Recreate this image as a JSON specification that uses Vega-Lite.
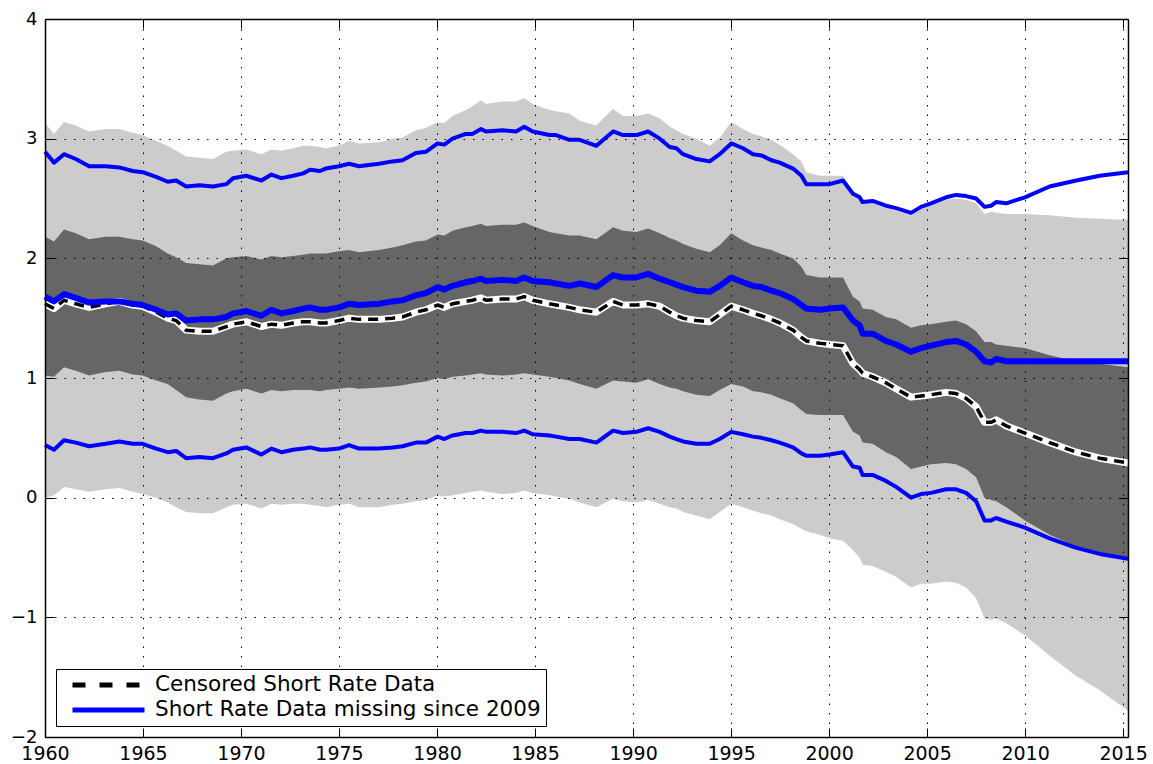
{
  "$schema": "https://vega.github.io/schema/vega-lite/v6.json",
  "width": 1083,
  "height": 718,
  "autosize": {"type": "none"},
  "padding": {"left": 45, "top": 19, "right": 25, "bottom": 27},
  "background": "white",
  "config": {"view": {"stroke": null}},
  "datasets": {
    "d": [
      {"t": 1960.0, "lh": 3.13, "ll": 0.00, "dh": 2.18, "dl": 1.02, "bh": 2.89, "bm": 1.68, "bl": 0.44, "c": 1.62},
      {"t": 1960.46, "lh": 3.04, "ll": 0.02, "dh": 2.14, "dl": 1.01, "bh": 2.80, "bm": 1.64, "bl": 0.40, "c": 1.58},
      {"t": 1960.97, "lh": 3.14, "ll": 0.09, "dh": 2.24, "dl": 1.09, "bh": 2.87, "bm": 1.70, "bl": 0.48, "c": 1.65},
      {"t": 1961.57, "lh": 3.11, "ll": 0.07, "dh": 2.21, "dl": 1.06, "bh": 2.83, "bm": 1.67, "bl": 0.46, "c": 1.62},
      {"t": 1962.25, "lh": 3.06, "ll": 0.05, "dh": 2.16, "dl": 1.02, "bh": 2.77, "bm": 1.63, "bl": 0.43, "c": 1.59},
      {"t": 1963.1, "lh": 3.08, "ll": 0.07, "dh": 2.18, "dl": 1.05, "bh": 2.77, "bm": 1.64, "bl": 0.45, "c": 1.62},
      {"t": 1963.79, "lh": 3.08, "ll": 0.08, "dh": 2.18, "dl": 1.06, "bh": 2.76, "bm": 1.64, "bl": 0.47, "c": 1.64},
      {"t": 1964.47, "lh": 3.05, "ll": 0.05, "dh": 2.16, "dl": 1.03, "bh": 2.73, "bm": 1.62, "bl": 0.45, "c": 1.61},
      {"t": 1964.98, "lh": 3.03, "ll": 0.03, "dh": 2.15, "dl": 1.02, "bh": 2.72, "bm": 1.61, "bl": 0.45, "c": 1.60},
      {"t": 1965.67, "lh": 2.98, "ll": 0.00, "dh": 2.10, "dl": 0.98, "bh": 2.68, "bm": 1.57, "bl": 0.41, "c": 1.55},
      {"t": 1966.26, "lh": 2.94, "ll": -0.04, "dh": 2.04, "dl": 0.95, "bh": 2.64, "bm": 1.53, "bl": 0.38, "c": 1.50},
      {"t": 1966.69, "lh": 2.90, "ll": -0.08, "dh": 2.01, "dl": 0.90, "bh": 2.65, "bm": 1.54, "bl": 0.39, "c": 1.48},
      {"t": 1967.2, "lh": 2.85, "ll": -0.12, "dh": 1.96, "dl": 0.84, "bh": 2.60, "bm": 1.48, "bl": 0.33, "c": 1.40},
      {"t": 1967.88, "lh": 2.84, "ll": -0.13, "dh": 1.95, "dl": 0.82, "bh": 2.61, "bm": 1.49, "bl": 0.34, "c": 1.39},
      {"t": 1968.57, "lh": 2.83, "ll": -0.13, "dh": 1.94, "dl": 0.81, "bh": 2.60, "bm": 1.49, "bl": 0.33, "c": 1.39},
      {"t": 1969.25, "lh": 2.89, "ll": -0.08, "dh": 2.00, "dl": 0.87, "bh": 2.62, "bm": 1.51, "bl": 0.37, "c": 1.43},
      {"t": 1969.59, "lh": 2.90, "ll": -0.06, "dh": 2.01, "dl": 0.89, "bh": 2.67, "bm": 1.54, "bl": 0.40, "c": 1.45},
      {"t": 1970.27, "lh": 2.91, "ll": -0.05, "dh": 2.02, "dl": 0.91, "bh": 2.69, "bm": 1.56, "bl": 0.42, "c": 1.47},
      {"t": 1971.04, "lh": 2.87, "ll": -0.09, "dh": 1.99, "dl": 0.87, "bh": 2.65, "bm": 1.52, "bl": 0.36, "c": 1.43},
      {"t": 1971.55, "lh": 2.91, "ll": -0.05, "dh": 2.02, "dl": 0.90, "bh": 2.70, "bm": 1.57, "bl": 0.41, "c": 1.45},
      {"t": 1972.06, "lh": 2.90, "ll": -0.06, "dh": 2.01, "dl": 0.89, "bh": 2.67, "bm": 1.54, "bl": 0.38, "c": 1.44},
      {"t": 1972.66, "lh": 2.92, "ll": -0.05, "dh": 2.02, "dl": 0.90, "bh": 2.69, "bm": 1.56, "bl": 0.40, "c": 1.46},
      {"t": 1973.17, "lh": 2.94, "ll": -0.05, "dh": 2.03, "dl": 0.90, "bh": 2.71, "bm": 1.58, "bl": 0.41, "c": 1.47},
      {"t": 1973.52, "lh": 2.94, "ll": -0.06, "dh": 2.04, "dl": 0.90, "bh": 2.74, "bm": 1.59, "bl": 0.42, "c": 1.47},
      {"t": 1974.03, "lh": 2.93, "ll": -0.07, "dh": 2.04, "dl": 0.89, "bh": 2.73, "bm": 1.57, "bl": 0.40, "c": 1.46},
      {"t": 1974.32, "lh": 2.92, "ll": -0.08, "dh": 2.04, "dl": 0.90, "bh": 2.75, "bm": 1.57, "bl": 0.40, "c": 1.46},
      {"t": 1975.0, "lh": 2.94, "ll": -0.06, "dh": 2.06, "dl": 0.91, "bh": 2.77, "bm": 1.59, "bl": 0.41, "c": 1.48},
      {"t": 1975.51, "lh": 2.98, "ll": -0.05, "dh": 2.07, "dl": 0.92, "bh": 2.79, "bm": 1.62, "bl": 0.44, "c": 1.50},
      {"t": 1976.02, "lh": 2.96, "ll": -0.08, "dh": 2.05, "dl": 0.91, "bh": 2.77, "bm": 1.61, "bl": 0.41, "c": 1.49},
      {"t": 1977.04, "lh": 2.97, "ll": -0.08, "dh": 2.07, "dl": 0.92, "bh": 2.79, "bm": 1.62, "bl": 0.41, "c": 1.49},
      {"t": 1977.73, "lh": 3.00, "ll": -0.06, "dh": 2.09, "dl": 0.93, "bh": 2.81, "bm": 1.64, "bl": 0.42, "c": 1.50},
      {"t": 1978.24, "lh": 3.01, "ll": -0.05, "dh": 2.11, "dl": 0.94, "bh": 2.82, "bm": 1.65, "bl": 0.43, "c": 1.51},
      {"t": 1978.92, "lh": 3.07, "ll": -0.03, "dh": 2.14, "dl": 0.96, "bh": 2.88, "bm": 1.69, "bl": 0.46, "c": 1.55},
      {"t": 1979.43, "lh": 3.09, "ll": -0.02, "dh": 2.15, "dl": 0.97, "bh": 2.89, "bm": 1.71, "bl": 0.46, "c": 1.57},
      {"t": 1980.03, "lh": 3.14, "ll": 0.02, "dh": 2.20, "dl": 1.00, "bh": 2.96, "bm": 1.76, "bl": 0.51, "c": 1.61},
      {"t": 1980.37, "lh": 3.13, "ll": 0.01, "dh": 2.19, "dl": 0.99, "bh": 2.95, "bm": 1.74, "bl": 0.49, "c": 1.59},
      {"t": 1980.79, "lh": 3.19, "ll": 0.02, "dh": 2.23, "dl": 1.01, "bh": 3.00, "bm": 1.77, "bl": 0.52, "c": 1.62},
      {"t": 1981.47, "lh": 3.24, "ll": 0.04, "dh": 2.26, "dl": 1.02, "bh": 3.04, "bm": 1.80, "bl": 0.54, "c": 1.64},
      {"t": 1981.81, "lh": 3.27, "ll": 0.05, "dh": 2.27, "dl": 1.03, "bh": 3.04, "bm": 1.81, "bl": 0.54, "c": 1.65},
      {"t": 1982.24, "lh": 3.32, "ll": 0.06, "dh": 2.29, "dl": 1.04, "bh": 3.08, "bm": 1.83, "bl": 0.56, "c": 1.67},
      {"t": 1982.5, "lh": 3.29, "ll": 0.05, "dh": 2.27, "dl": 1.03, "bh": 3.06, "bm": 1.81, "bl": 0.55, "c": 1.65},
      {"t": 1983.35, "lh": 3.31, "ll": 0.03, "dh": 2.28, "dl": 1.02, "bh": 3.07, "bm": 1.82, "bl": 0.55, "c": 1.66},
      {"t": 1984.03, "lh": 3.31, "ll": 0.04, "dh": 2.28, "dl": 1.03, "bh": 3.06, "bm": 1.81, "bl": 0.54, "c": 1.66},
      {"t": 1984.45, "lh": 3.34, "ll": 0.06, "dh": 2.30, "dl": 1.04, "bh": 3.10, "bm": 1.84, "bl": 0.56, "c": 1.68},
      {"t": 1984.88, "lh": 3.29, "ll": 0.04, "dh": 2.27, "dl": 1.03, "bh": 3.06, "bm": 1.81, "bl": 0.53, "c": 1.65},
      {"t": 1985.73, "lh": 3.24, "ll": 0.02, "dh": 2.22, "dl": 1.01, "bh": 3.03, "bm": 1.80, "bl": 0.52, "c": 1.62},
      {"t": 1986.07, "lh": 3.23, "ll": 0.01, "dh": 2.21, "dl": 1.00, "bh": 3.03, "bm": 1.79, "bl": 0.51, "c": 1.61},
      {"t": 1986.75, "lh": 3.21, "ll": -0.01, "dh": 2.19, "dl": 0.98, "bh": 2.99, "bm": 1.77, "bl": 0.49, "c": 1.59},
      {"t": 1987.28, "lh": 3.15, "ll": -0.04, "dh": 2.19, "dl": 0.95, "bh": 2.99, "bm": 1.79, "bl": 0.49, "c": 1.57},
      {"t": 1988.13, "lh": 3.11, "ll": -0.08, "dh": 2.16, "dl": 0.91, "bh": 2.94, "bm": 1.76, "bl": 0.46, "c": 1.55},
      {"t": 1988.98, "lh": 3.25, "ll": -0.01, "dh": 2.26, "dl": 0.98, "bh": 3.06, "bm": 1.86, "bl": 0.56, "c": 1.64},
      {"t": 1989.49, "lh": 3.19, "ll": -0.03, "dh": 2.23, "dl": 0.97, "bh": 3.03, "bm": 1.84, "bl": 0.54, "c": 1.61},
      {"t": 1990.17, "lh": 3.19, "ll": -0.04, "dh": 2.22, "dl": 0.96, "bh": 3.03, "bm": 1.84, "bl": 0.55, "c": 1.61},
      {"t": 1990.77, "lh": 3.21, "ll": -0.02, "dh": 2.25, "dl": 0.99, "bh": 3.06, "bm": 1.87, "bl": 0.58, "c": 1.62},
      {"t": 1991.36, "lh": 3.17, "ll": -0.05, "dh": 2.21, "dl": 0.95, "bh": 3.00, "bm": 1.83, "bl": 0.55, "c": 1.60},
      {"t": 1991.87, "lh": 3.10, "ll": -0.08, "dh": 2.17, "dl": 0.92, "bh": 2.93, "bm": 1.80, "bl": 0.51, "c": 1.55},
      {"t": 1992.21, "lh": 3.07, "ll": -0.09, "dh": 2.15, "dl": 0.91, "bh": 2.92, "bm": 1.78, "bl": 0.49, "c": 1.52},
      {"t": 1992.55, "lh": 3.04, "ll": -0.12, "dh": 2.12, "dl": 0.89, "bh": 2.87, "bm": 1.76, "bl": 0.47, "c": 1.50},
      {"t": 1993.23, "lh": 3.00, "ll": -0.15, "dh": 2.08, "dl": 0.86, "bh": 2.83, "bm": 1.73, "bl": 0.45, "c": 1.48},
      {"t": 1993.91, "lh": 2.94, "ll": -0.18, "dh": 2.05, "dl": 0.85, "bh": 2.81, "bm": 1.72, "bl": 0.45, "c": 1.47},
      {"t": 1994.42, "lh": 3.01, "ll": -0.12, "dh": 2.11, "dl": 0.90, "bh": 2.87, "bm": 1.77, "bl": 0.49, "c": 1.53},
      {"t": 1995.01, "lh": 3.14, "ll": -0.05, "dh": 2.21, "dl": 0.95, "bh": 2.96, "bm": 1.84, "bl": 0.55, "c": 1.60},
      {"t": 1995.61, "lh": 3.08, "ll": -0.08, "dh": 2.15, "dl": 0.93, "bh": 2.92, "bm": 1.80, "bl": 0.53, "c": 1.57},
      {"t": 1996.12, "lh": 3.04, "ll": -0.11, "dh": 2.11, "dl": 0.89, "bh": 2.87, "bm": 1.77, "bl": 0.51, "c": 1.54},
      {"t": 1996.55, "lh": 3.02, "ll": -0.13, "dh": 2.09, "dl": 0.88, "bh": 2.86, "bm": 1.76, "bl": 0.50, "c": 1.52},
      {"t": 1997.06, "lh": 2.99, "ll": -0.15, "dh": 2.07, "dl": 0.86, "bh": 2.82, "bm": 1.73, "bl": 0.48, "c": 1.49},
      {"t": 1997.48, "lh": 2.95, "ll": -0.18, "dh": 2.04, "dl": 0.83, "bh": 2.80, "bm": 1.71, "bl": 0.46, "c": 1.46},
      {"t": 1998.16, "lh": 2.87, "ll": -0.22, "dh": 2.00, "dl": 0.79, "bh": 2.75, "bm": 1.66, "bl": 0.42, "c": 1.40},
      {"t": 1998.59, "lh": 2.81, "ll": -0.26, "dh": 1.93, "dl": 0.73, "bh": 2.69, "bm": 1.61, "bl": 0.37, "c": 1.34},
      {"t": 1998.84, "lh": 2.72, "ll": -0.28, "dh": 1.86, "dl": 0.70, "bh": 2.62, "bm": 1.58, "bl": 0.35, "c": 1.31},
      {"t": 1999.52, "lh": 2.69, "ll": -0.31, "dh": 1.84, "dl": 0.69, "bh": 2.62, "bm": 1.57, "bl": 0.35, "c": 1.29},
      {"t": 2000.03, "lh": 2.69, "ll": -0.34, "dh": 1.84, "dl": 0.69, "bh": 2.62, "bm": 1.58, "bl": 0.36, "c": 1.28},
      {"t": 2000.71, "lh": 2.69, "ll": -0.36, "dh": 1.84, "dl": 0.69, "bh": 2.65, "bm": 1.59, "bl": 0.38, "c": 1.27},
      {"t": 2001.22, "lh": 2.55, "ll": -0.44, "dh": 1.68, "dl": 0.55, "bh": 2.54, "bm": 1.48, "bl": 0.26, "c": 1.12},
      {"t": 2001.56, "lh": 2.52, "ll": -0.50, "dh": 1.64, "dl": 0.52, "bh": 2.51, "bm": 1.44, "bl": 0.25, "c": 1.07},
      {"t": 2001.71, "lh": 2.46, "ll": -0.56, "dh": 1.58, "dl": 0.46, "bh": 2.47, "bm": 1.37, "bl": 0.19, "c": 1.04},
      {"t": 2002.22, "lh": 2.46, "ll": -0.57, "dh": 1.57, "dl": 0.45, "bh": 2.48, "bm": 1.37, "bl": 0.19, "c": 1.01},
      {"t": 2002.9, "lh": 2.42, "ll": -0.62, "dh": 1.51, "dl": 0.38, "bh": 2.44, "bm": 1.31, "bl": 0.14, "c": 0.96},
      {"t": 2003.42, "lh": 2.40, "ll": -0.66, "dh": 1.49, "dl": 0.34, "bh": 2.42, "bm": 1.28, "bl": 0.09, "c": 0.91},
      {"t": 2004.18, "lh": 2.36, "ll": -0.75, "dh": 1.42, "dl": 0.24, "bh": 2.38, "bm": 1.22, "bl": 0.00, "c": 0.84},
      {"t": 2004.69, "lh": 2.41, "ll": -0.72, "dh": 1.44, "dl": 0.26, "bh": 2.43, "bm": 1.25, "bl": 0.03, "c": 0.85},
      {"t": 2005.2, "lh": 2.44, "ll": -0.72, "dh": 1.45, "dl": 0.28, "bh": 2.46, "bm": 1.27, "bl": 0.04, "c": 0.86},
      {"t": 2005.97, "lh": 2.49, "ll": -0.70, "dh": 1.47, "dl": 0.29, "bh": 2.51, "bm": 1.30, "bl": 0.07, "c": 0.88},
      {"t": 2006.48, "lh": 2.50, "ll": -0.71, "dh": 1.48, "dl": 0.28, "bh": 2.53, "bm": 1.31, "bl": 0.07, "c": 0.87},
      {"t": 2006.99, "lh": 2.49, "ll": -0.75, "dh": 1.45, "dl": 0.24, "bh": 2.52, "bm": 1.28, "bl": 0.04, "c": 0.83},
      {"t": 2007.5, "lh": 2.46, "ll": -0.84, "dh": 1.39, "dl": 0.17, "bh": 2.50, "bm": 1.22, "bl": -0.03, "c": 0.76},
      {"t": 2007.93, "lh": 2.37, "ll": -1.01, "dh": 1.30, "dl": 0.00, "bh": 2.43, "bm": 1.14, "bl": -0.19, "c": 0.63},
      {"t": 2008.27, "lh": 2.39, "ll": -1.02, "dh": 1.30, "dl": -0.02, "bh": 2.44, "bm": 1.13, "bl": -0.19, "c": 0.63},
      {"t": 2008.52, "lh": 2.38, "ll": -1.01, "dh": 1.28, "dl": -0.03, "bh": 2.47, "bm": 1.16, "bl": -0.17, "c": 0.65},
      {"t": 2009.04, "lh": 2.37, "ll": -1.05, "dh": 1.27, "dl": -0.08, "bh": 2.46, "bm": 1.14, "bl": -0.20, "c": 0.60},
      {"t": 2009.99, "lh": 2.37, "ll": -1.15, "dh": 1.25, "dl": -0.19, "bh": 2.51, "bm": 1.14, "bl": -0.25, "c": 0.54},
      {"t": 2011.25, "lh": 2.36, "ll": -1.32, "dh": 1.19, "dl": -0.31, "bh": 2.60, "bm": 1.14, "bl": -0.34, "c": 0.46},
      {"t": 2012.61, "lh": 2.34, "ll": -1.49, "dh": 1.14, "dl": -0.41, "bh": 2.65, "bm": 1.14, "bl": -0.42, "c": 0.38},
      {"t": 2013.81, "lh": 2.33, "ll": -1.61, "dh": 1.12, "dl": -0.47, "bh": 2.69, "bm": 1.14, "bl": -0.47, "c": 0.33},
      {"t": 2015.25, "lh": 2.32, "ll": -1.78, "dh": 1.09, "dl": -0.52, "bh": 2.72, "bm": 1.14, "bl": -0.51, "c": 0.29}
    ]
  },
  "data": {"name": "d"},
  "resolve": {"axis": {"x": "independent", "y": "independent"}},
  "layer": [
    {
      "mark": {"type": "area", "color": "#cccccc"},
      "encoding": {
        "x": {"field": "t", "type": "quantitative",
          "scale": {"domain": [1960, 2015.25], "nice": false, "zero": false},
          "axis": {"orient": "bottom", "title": null, "values": [1960, 1965, 1970, 1975, 1980, 1985, 1990, 1995, 2000, 2005, 2010, 2015],
            "format": "d", "grid": true, "gridColor": "black", "gridDash": [1.5, 8], "gridWidth": 1, "gridOpacity": 1,
            "tickSize": -9, "tickColor": "black", "tickWidth": 1, "labelPadding": 16, "labelFlush": false, "labelOverlap": false, "labelBound": false,
            "domainColor": "black", "domainWidth": 1.5, "labelFont": "DejaVu Sans", "labelFontSize": 19, "labelColor": "black", "zindex": 1}},
        "y": {"field": "lh", "type": "quantitative",
          "scale": {"domain": [-2, 4], "nice": false, "zero": false},
          "axis": {"orient": "left", "title": null, "values": [-2, -1, 0, 1, 2, 3, 4],
            "format": "d", "grid": true, "gridColor": "black", "gridDash": [1.5, 8], "gridWidth": 1, "gridOpacity": 1,
            "tickSize": -9, "tickColor": "black", "tickWidth": 1, "labelPadding": 17, "labelFlush": false, "labelOverlap": false, "labelBound": false,
            "domainColor": "black", "domainWidth": 1.5, "labelFont": "DejaVu Sans", "labelFontSize": 18, "labelColor": "black", "zindex": 1}},
        "y2": {"field": "ll"}
      }
    },
    {
      "mark": {"type": "area", "color": "#666666"},
      "encoding": {
        "x": {"field": "t", "type": "quantitative", "axis": null},
        "y": {"field": "dh", "type": "quantitative", "axis": null},
        "y2": {"field": "dl"}
      }
    },
    {
      "mark": {"type": "line", "color": "white", "strokeWidth": 7, "strokeJoin": "round"},
      "encoding": {
        "x": {"field": "t", "type": "quantitative", "axis": null},
        "y": {"field": "c", "type": "quantitative", "axis": null}
      }
    },
    {
      "mark": {"type": "line", "strokeWidth": 3.5, "strokeDash": [10, 7], "strokeJoin": "round"},
      "encoding": {
        "x": {"field": "t", "type": "quantitative", "axis": null},
        "y": {"field": "c", "type": "quantitative", "axis": null},
        "color": {"datum": "Censored Short Rate Data",
          "scale": {"domain": ["Censored Short Rate Data", "Short Rate Data missing since 2009"], "range": ["black", "#0000ff"]},
          "legend": {"orient": "bottom-left", "offset": 11, "title": null, "symbolType": "stroke", "symbolSize": 5184,
            "symbolStrokeWidth": 5, "labelFont": "DejaVu Sans", "labelFontSize": 21.5, "labelColor": "black", "labelLimit": 0,
            "labelOffset": 8, "strokeColor": "black", "fillColor": "white", "padding": 5, "rowPadding": 3, "symbolOffset": 9,
            "clipHeight": 22, "zindex": 2,
            "encode": {"symbols": {"update": {"strokeDash": {"signal": "datum.value === 'Censored Short Rate Data' ? [13, 14] : [1, 0]"}}}}}}
      }
    },
    {
      "mark": {"type": "line", "strokeWidth": 6, "strokeJoin": "round"},
      "encoding": {
        "x": {"field": "t", "type": "quantitative", "axis": null},
        "y": {"field": "bm", "type": "quantitative", "axis": null},
        "color": {"datum": "Short Rate Data missing since 2009"}
      }
    },
    {
      "mark": {"type": "line", "color": "#0000ff", "strokeWidth": 4, "strokeJoin": "round"},
      "encoding": {
        "x": {"field": "t", "type": "quantitative", "axis": null},
        "y": {"field": "bh", "type": "quantitative", "axis": null}
      }
    },
    {
      "mark": {"type": "line", "color": "#0000ff", "strokeWidth": 4, "strokeJoin": "round"},
      "encoding": {
        "x": {"field": "t", "type": "quantitative",
          "axis": {"orient": "top", "title": null, "values": [1960, 1965, 1970, 1975, 1980, 1985, 1990, 1995, 2000, 2005, 2010, 2015],
            "labels": false, "grid": false, "tickSize": -9, "tickColor": "black", "tickWidth": 1, "domainColor": "black", "domainWidth": 1.5, "zindex": 1}},
        "y": {"field": "bl", "type": "quantitative",
          "axis": {"orient": "right", "title": null, "values": [-2, -1, 0, 1, 2, 3, 4],
            "labels": false, "grid": false, "tickSize": -9, "tickColor": "black", "tickWidth": 1, "domainColor": "black", "domainWidth": 1.5, "zindex": 1}}
      }
    }
  ]
}
